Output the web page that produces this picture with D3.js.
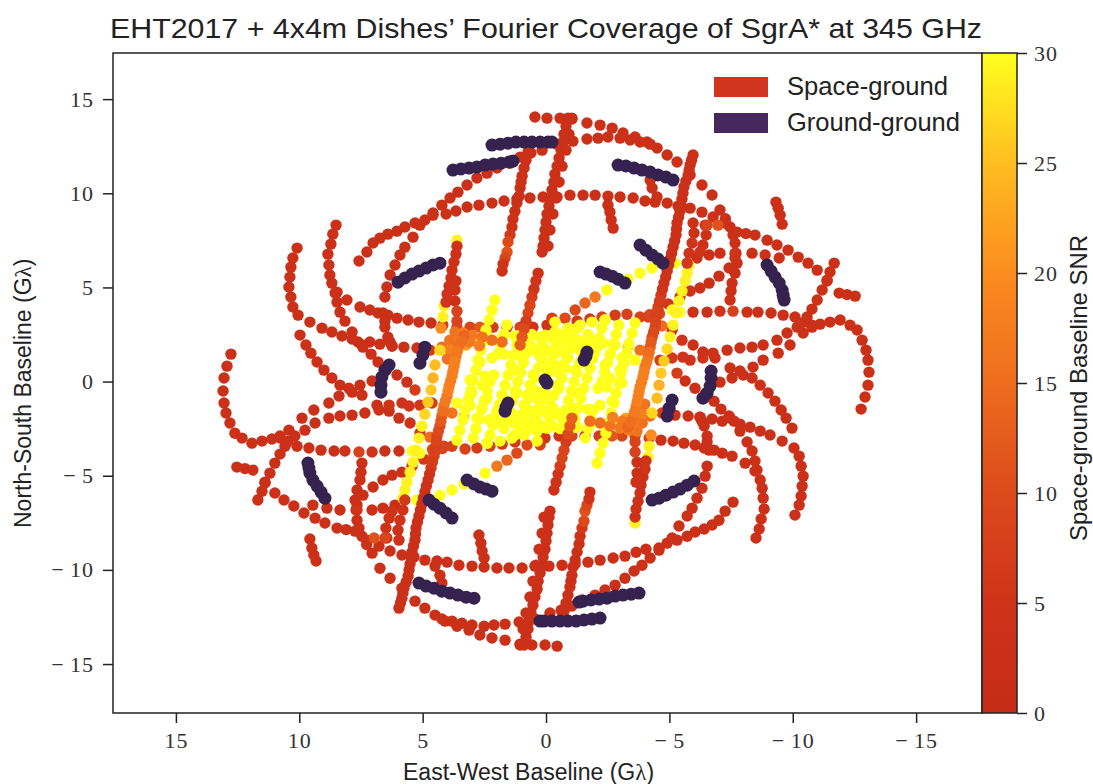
<!DOCTYPE html>
<html>
<head>
<meta charset="utf-8">
<script src="https://cdn.jsdelivr.net/npm/d3@7"></script>
<style>
html, body { margin: 0; background: #fff; }
text { fill: #222; }
.sans { font-family: "Liberation Sans", Arial, sans-serif; }
.tick text { font-family: "Liberation Serif", serif; font-size: 22px; fill: #333; letter-spacing: 1px; }
.tick line { stroke: #222; stroke-width: 1.5px; }
</style>
</head>
<body>
<div id="viz"></div>
<script>
//Ticks y escala de color
const xTicks = [15, 10, 5, 0, -5, -10, -15];
const yTicks = [15, 10, 5, 0, -5, -10, -15];
const snrTicks = [0, 5, 10, 15, 20, 25, 30];
const snrColors = ['#c42c17', '#cf3319', '#dc4a1c', '#ee6d1e', '#fb8c1f', '#ffbd20', '#ffff1e'];
const legendLabels = ['Space-ground', 'Ground-ground'];

//Space-ground: [u, v, snr], solo una mitad del plano (el conjugado -u,-v se pinta luego)
const arcTop = [[.45,14.05,3],[-.04,13.99,3],[-.57,13.99,3],[-1.05,13.94,3],[-1.66,13.73,3],[-2.19,13.62,3],[-2.68,13.46,3],[-3.12,13.2,3],[-3.61,12.99,3],[-4.09,12.72,3],[-4.5,12.4,3],[-4.91,12.03,3],[-5.31,11.66,3],[-5.84,10.97,3],[-6.32,10.44,3],[-6.73,9.91,3],[-7.05,9.11,3],[-7.27,8.65,3],[-7.46,8.21,3],[-7.58,7.78,3],[-7.66,7.36,3],[-7.7,6.82,3],[-7.74,6.29,3],[-7.66,5.76,3],[-7.54,5.23,3],[-7.5,4.81,3],[-7.46,4.33,3]];
const arcLong = [[7.58,6.4,3],[7.26,6.88,3],[7.01,7.36,3],[6.73,7.62,3],[6.41,7.83,3],[6.04,7.99,3],[5.72,8.21,3],[5.31,8.42,3],[4.91,8.58,3],[4.58,8.95,3],[4.22,9.37,3],[3.89,9.75,3],[3.57,10.06,3],[3.2,10.44,3],[2.8,10.81,3],[2.39,11.07,3],[1.99,11.34,3],[1.46,11.6,3],[1.05,11.92,3],[.61,12.14,3],[.16,12.29,3],[-.45,12.61,3],[-1.09,12.77,3],[-1.66,12.88,3],[-2.11,12.93,3],[-2.51,12.99,3],[-3,12.93,3],[-3.41,12.83,3],[-3.81,12.72,3],[-4.22,12.61,3]];
const arcTen = [[6.53,4.49,3],[6.45,5.02,3],[6.32,5.66,3],[6.12,6.19,3],[5.92,6.72,3],[5.72,7.14,3],[5.39,7.67,3],[5.11,8.31,3],[4.58,8.84,3],[4.05,8.9,3],[3.65,9.06,3],[3.2,9.27,3],[2.72,9.37,3],[2.19,9.48,3],[1.7,9.59,3],[1.18,9.69,3],[.65,9.75,3],[.12,9.8,3],[-.45,9.8,3],[-.97,9.9,3],[-1.5,9.9,3],[-1.99,9.9,3],[-2.51,9.85,3],[-3,9.8,3],[-3.53,9.75,3],[-4.01,9.59,3],[-4.42,9.53,3],[-4.91,9.48,3],[-5.35,9.32,3],[-5.84,9.21,3],[-6.32,9,3],[-6.77,8.74,3],[-7.26,8.42,3],[-7.74,7.94,3],[-8.1,7.86,3],[-8.47,7.78,3],[-8.96,7.51,3],[-9.36,7.25,3],[-9.81,6.98,3],[-10.22,6.61,3],[-10.62,6.29,3],[-10.99,5.92,3],[-11.39,5.34,3],[-11.88,4.7,3],[-12.2,4.62,3],[-12.53,4.54,3]];
const shortA = [[-9.32,9.53,3],[-9.41,9.21,3],[-9.49,8.84,3],[-9.57,8.36,3]];
const shortB = [[-2.51,9.37,3],[-2.59,9,3],[-2.64,8.58,3],[-2.72,8.15,3]];
const shortC = [[-4.22,10.7,3],[-4.3,10.28,3],[-4.5,9.8,3]];
const shortD = [[-5.96,8.42,4],[-6,7.89,4],[-5.92,7.36,5],[-5.8,6.82,5],[-5.72,6.29,6]];
const shortE = [[-6.45,8.31,4],[-6.49,7.78,4],[-6.36,7.25,4],[-6.24,6.88,5],[-6.53,8.31,9],[-6.97,8.31,11]];
const shortF = [[6.61,3.64,3],[6.53,3.21,3],[6.53,2.89,3],[6.41,2.36,3],[6.32,2.1,3],[6.24,1.89,3]];
const spokeA = [[-.89,13.99,3],[-.81,13.57,3],[-.73,13.14,3],[-.69,12.72,3],[-.61,12.29,3],[-.53,11.87,3],[-.45,11.44,3],[-.36,11.02,3],[-.32,10.6,3],[-.24,10.17,3],[-.16,9.75,3],[-.12,9.32,3],[-.04,8.9,3],[0,8.47,3],[.04,8.05,3],[.08,7.62,3],[.12,7.2,3],[.16,6.88,3]];
const spokeB = [[-1.05,13.99,3],[-.93,13.14,3],[-.81,12.29,3],[-.65,11.44,3],[-.53,10.6,3],[-.41,9.75,3],[-.28,8.9,3],[-.16,8.05,3],[-.08,7.2,3]];
const spokeC = [[.73,12.19,3],[.81,11.76,3],[.89,11.34,3],[.97,10.91,3],[1.01,10.6,3],[1.05,10.28,3],[1.09,9.85,3],[1.18,9.48,3],[1.26,9.05,3],[1.34,8.63,3],[1.38,8.21,4],[1.46,7.78,6],[1.54,7.41,10],[1.58,6.88,11],[1.66,6.56,9],[1.74,6.24,5],[1.78,5.87,4]];
const spokeD = [[.32,5.76,4],[.41,5.34,5],[.49,4.91,5],[.57,4.49,7],[.65,4.06,9],[.73,3.64,9],[.81,3.21,7],[.89,2.79,10],[.97,2.36,12],[1.05,1.94,13]];
const spokeYellow = [[3.61,7.51,29],[4.13,4.01,29],[4.18,3.43,29],[4.26,2.84,20],[4.3,1.67,27],[4.5,.88,25],[4.58,.19,24],[4.66,-.45,26],[4.78,-1.09,26],[4.91,-1.73,27],[5.03,-2.37,29],[5.15,-3,29],[5.27,-3.64,29],[5.39,-4.28,29],[5.51,-4.81,29],[5.64,-5.34,29],[5.72,-5.76,29],[5.8,-6.19,29]];
const spokeRed = [[3.61,7.19,4],[3.65,6.77,4],[3.73,6.35,4],[3.81,5.92,4],[3.85,5.5,4],[3.93,5.07,4],[4.01,4.65,5],[4.05,4.22,5]];
const spokeRed2 = [[3.65,5.34,4],[3.69,4.86,4],[3.69,4.28,4],[3.61,3.74,8],[3.61,3.21,9]];
const spokeLong = [[-5.96,12.03,3],[-5.84,11.5,3],[-5.76,10.97,3],[-5.59,10.33,3],[-5.51,9.69,3],[-5.43,9.05,3],[-5.31,8.42,3],[-5.27,7.78,3],[-5.15,7.14,3],[-5.03,6.51,3],[-4.91,5.87,4],[-4.78,5.23,5],[-4.66,4.59,6],[-4.54,3.96,8],[-4.46,3.43,8],[-4.42,2.89,9],[-4.3,2.36,10],[-4.22,1.83,13],[-4.14,1.3,17],[-4.01,.77,17],[-3.93,.24,18],[-3.81,-.29,18],[-3.73,-.82,18],[-3.65,-1.35,17],[-3.53,-1.89,16],[-3.32,-2.42,14]];
const spokeLong2 = [[-5.9,11.76,3],[-5.8,11.23,3],[-5.67,10.65,3],[-5.55,10,3],[-5.47,9.37,3],[-5.37,8.73,3],[-5.29,8.1,3],[-5.21,7.46,3],[-5.09,6.82,3],[-4.97,6.19,3],[-4.85,5.55,4],[-4.72,4.91,5],[-4.6,4.27,7],[-4.5,3.7,8],[-4.44,3.16,9],[-4.36,2.62,10],[-4.26,2.1,12],[-4.18,1.56,15],[-4.08,1.03,17],[-3.97,.5,18],[-3.87,-.02,18],[-3.77,-.55,18],[-3.69,-1.08,18],[-3.59,-1.62,17],[-3.42,-2.15,15]];
const rowThree = [[-12.77,-1.46,3],[-12.93,-.82,3],[-13.05,-.19,3],[-13.09,.5,3],[-13.05,1.14,3],[-12.97,1.67,3],[-12.81,2.2,3],[-12.61,2.74,3],[-12.32,3,3],[-11.92,3.27,3],[-11.51,3.16,3],[-11.11,3.05,3],[-10.78,3,3],[-10.46,3.16,3],[-10.09,3.43,3],[-9.61,3.53,3],[-9.12,3.64,3],[-8.59,3.69,3],[-8.15,3.69,4],[-7.58,3.74,8],[-7.05,3.74,5],[-6.53,3.69,3],[-5.96,3.69,3],[-5.43,3.69,30],[-5.11,3.8,30],[-4.6,3.6,10],[-4.2,3.55,9],[-3.81,3.43,8],[-3.28,3.58,8],[-2.8,3.53,7],[-2.27,3.43,9],[-1.78,3.32,6],[-1.26,3.21,6],[-.77,3.37,10],[-.24,3.37,8]];
const arcLeft = [[8.51,8.31,3],[8.64,7.83,3],[8.72,7.3,3],[8.84,6.77,3],[8.8,6.19,3],[8.76,5.66,3],[8.68,5.23,3],[8.55,4.7,3],[8.07,4.33,3],[7.54,3.96,3],[7.14,3.8,3],[6.81,3.64,3],[6.41,3.53,3],[6.04,3.37,3],[5.59,3.27,3],[5.15,3.16,3],[4.66,3.11,3],[4.18,3,8],[3.61,2.89,9],[3.08,2.89,9],[2.68,2.89,12],[2.15,2.89,7],[1.58,2.89,5],[1.05,2.89,8],[.53,2.89,5],[-.04,3,5]];
const arcOuter = [[10.09,7.09,3],[10.26,6.56,3],[10.34,6.08,3],[10.38,5.55,3],[10.42,5.02,3],[10.34,4.49,3],[10.26,3.96,3],[10.05,3.53,3],[9.57,3.16,3],[9.08,2.84,3],[8.68,2.63,3],[8.27,2.42,3],[7.86,2.26,3],[7.46,1.94,3],[7.14,2.1,3],[6.73,1.99,3],[6.24,1.89,3],[5.76,1.83,3],[5.23,1.78,4],[4.7,1.67,7],[4.22,1.83,15],[3.73,1.83,19]];
const arcOuter2 = [[9.97,2.47,3],[9.73,1.94,3],[9.53,1.51,3],[9.28,1.04,3],[9,.61,3],[8.68,.19,3],[8.35,-.19,3],[7.86,-.56,3],[7.46,-.72,3],[6.85,-1.25,3],[6.36,-1.57,3],[5.96,-1.94,4],[5.51,-2.2,5],[5.11,-2.73,7],[4.7,-2.95,15]];
const arcRight = [[-10.78,2.89,3],[-10.42,2.58,3],[-9.89,1.94,3],[-9.41,1.51,3],[-8.8,1.14,3],[-8.39,.77,3],[-7.99,.35,3],[-7.54,.19,3],[-7.05,-.03,3]];
const arcBranch = [[8.47,4.75,3],[8.47,4.22,3],[8.35,3.69,3],[8.15,3.21,3],[7.86,2.63,3],[7.62,2.1,3],[7.42,1.83,3],[7.09,1.46,3],[6.81,1.04,3],[6.45,.66,3],[6.04,.35,3],[5.64,-.03,4],[5.31,-.45,7]];
const arcFar = [[-11.68,6.29,3],[-11.51,5.82,3],[-11.39,5.39,3],[-11.19,4.86,3],[-10.99,4.33,3],[-10.78,3.85,3],[-10.58,3.43,3],[-10.18,2.89,3],[-9.77,2.58,3],[-9.36,2.2,3],[-8.8,1.94,3],[-8.35,1.83,3],[-7.86,1.78,3],[-7.34,1.67,3],[-6.77,1.51,4],[-6.36,1.25,5],[-5.84,1.14,5],[-5.55,1.3,5],[-5.11,1.25,6],[-4.62,1.14,7]];
const arcInner = [[-7.66,6.56,3],[-7.42,6.03,3],[-7.01,5.6,3],[-6.61,5.23,3],[-6.24,4.97,3],[-5.84,4.81,4],[-5.43,4.49,5],[-4.95,4.12,6],[-4.54,3.8,7],[-4.14,3.43,8]];
const rowSix = [[-9.45,6.56,3],[-8.88,6.72,3],[-8.35,6.82,3],[-7.66,6.82,5],[-7.05,6.82,3],[-6.61,6.72,3],[-6.12,6.56,3],[-5.76,6.24,4]];
const orangeEdge = [[3.69,2.63,16],[3.36,2.58,17],[3,2.47,17],[2.59,2.36,16],[2.19,2.2,15],[1.78,2.1,15],[3.9,2.2,16],[3.5,2.2,17],[3.1,2.1,17],[2.7,1.9,18],[3.9,1.7,18],[4,1.2,16]];
const diagonal = [[-5.23,6.29,30],[-4.3,6.03,30],[-3.81,5.76,30],[-3.32,5.44,30],[-2.47,4.86,30],[-1.99,4.49,17],[-1.58,4.17,14],[-1.18,3.8,10],[-.36,3.16,30]];

//Zona central, baselines cortas de SNR alto
const centreA = [[2.07,4.33,30],[2.19,3.8,30],[2.31,3.27,30],[2.43,2.74,30],[2.51,2.2,30],[2.64,1.67,30],[2.76,1.14,30],[2.84,.61,30],[2.96,.08,30],[3.04,-.45,30],[3.16,-.98,30],[3.28,-1.51,30],[3.36,-2.04,30],[3.49,-2.58,30],[3.61,-3.11,30]];
const centreB = [[1.05,2.47,30],[1.18,1.94,30],[1.3,1.41,30],[1.42,.88,30],[1.54,.35,30],[1.66,-.19,30],[1.78,-.72,30],[1.91,-1.25,30],[2.03,-1.78,30],[2.15,-2.31,30],[2.27,-2.84,30],[2.39,-3.27,30]];
const centreC = [[.04,2.47,30],[.16,1.94,30],[.28,1.41,30],[.53,.35,30],[.65,-.19,30],[.77,-.72,30],[.89,-1.25,30],[1.01,-1.78,30],[1.14,-2.31,30],[1.26,-2.84,30]];
const centreD = [[-1.05,2.47,30],[-.93,1.94,30],[-.81,1.41,30],[-.69,.88,30],[-.57,.35,30],[-.45,-.19,30],[-.32,-.72,30],[-.2,-1.25,30],[-.08,-1.78,30]];
const centreE = [[3.08,-.72,30],[2.59,-.19,30],[2.11,.35,30],[1.14,1.41,30],[.65,1.94,30],[.16,2.31,30],[-.36,2.63,30],[-.89,2.84,30],[-1.38,3,30],[-1.86,3.16,30],[-2.39,3.27,30]];
const centreF = [[3.24,1.94,22],[2.76,2.15,27],[2.27,2.26,30],[1.78,2.31,30],[1.26,2.42,30],[.73,2.47,30],[.24,2.36,30],[-.24,2.31,30],[-.77,2.31,30],[-1.3,2.2,30],[-1.78,2.2,30],[-2.31,2.04,30],[-2.8,1.94,30],[-3.32,1.83,27],[-3.81,1.67,16]];
const centreG = [[2.68,1.04,30],[2.19,1.25,30],[1.7,1.46,30],[1.05,1.57,30],[.45,1.67,30],[-.16,1.57,30],[-.77,1.57,30],[-1.38,1.67,30],[-1.99,1.57,30],[-2.59,1.41,30],[-3.08,1.25,30],[-3.61,1.14,30]];
const centreH = [[3.08,.08,30],[2.47,.29,30],[1.26,.61,30],[.04,.72,30],[-.57,.72,30],[-1.18,.61,30],[-1.78,.72,30],[-2.39,.88,30],[-3,.61,30]];
const centreI = [[1.59,3,30],[1.7,2.5,30],[1.82,2,30],[1.93,1.5,30],[2.27,0,30],[2.38,-.5,30],[2.5,-1,30],[2.61,-1.5,30],[2.72,-2,30],[2.84,-2.5,30],[2.95,-3,30]];
const centreJ = [[.58,2.5,30],[.69,2,30],[.8,1.5,30],[.91,1,30],[1.03,.5,30],[1.14,0,30],[1.25,-.5,30],[1.37,-1,30],[1.48,-1.5,30],[1.59,-2,30],[1.7,-2.5,30]];
const centreK = [[-.53,2.5,30],[-.41,2,30],[-.3,1.5,30],[-.19,1,30],[-.07,.5,30],[.04,0,30],[.15,-.5,30],[.27,-1,30],[.38,-1.5,30],[.49,-2,30],[.61,-2.5,30]];

//Ground-ground: [u, v]
const groundA = [[2.19,12.56],[1.86,12.61],[1.54,12.66],[1.22,12.72],[.89,12.72],[.57,12.72],[.24,12.72],[-.08,12.72],[-.24,12.72]];
const groundB = [[3.77,11.23],[3.45,11.29],[3.12,11.34],[2.8,11.39],[2.47,11.5],[2.15,11.55],[1.82,11.6],[1.5,11.66],[1.34,11.71]];
const groundC = [[-2.92,11.5],[-3.24,11.45],[-3.57,11.34],[-3.89,11.23],[-4.22,11.13],[-4.54,10.97],[-4.86,10.86],[-5.15,10.7]];
const groundD = [[-3.81,7.25],[-4.05,6.98],[-4.3,6.72],[-4.54,6.51],[-4.74,6.29]];
const groundE = [[-2.19,5.82],[-2.43,5.71],[-2.68,5.6],[-2.92,5.44],[-3.2,5.23]];
const groundF = [[6,5.28],[5.72,5.5],[5.43,5.71],[5.15,5.87],[4.86,6.03],[4.58,6.19],[4.3,6.29]];
const groundG = [[-8.96,6.19],[-9.12,5.87],[-9.28,5.55],[-9.45,5.23],[-9.57,4.86],[-9.61,4.59],[-9.65,4.33]];
const groundH = [[4.91,1.83],[4.99,1.41],[5.11,.98]];
const groundI = [[6.36,.88],[6.53,.61],[6.65,.24],[6.69,-.19],[6.69,-.56]];
const groundJ = [[1.54,-1.14],[1.62,-1.35],[1.66,-1.57]];
const groundK = [[-.04,-.08]];

const spaceTracks = [arcTop, arcLong, arcTen, shortA, shortB, shortC, arcLeft, arcOuter, arcOuter2, arcRight, arcBranch, arcFar, arcInner, rowSix, rowThree, shortF,
    centreE, centreF, centreG, centreH, centreA, centreB, centreC, centreD, centreI, centreJ, centreK, diagonal, orangeEdge, spokeYellow, spokeRed, spokeRed2, spokeA, spokeB, spokeC, spokeD, spokeLong, spokeLong2, shortD, shortE];
const groundTracks = [groundA, groundB, groundC, groundD, groundE, groundF, groundG, groundH, groundI, groundJ, groundK];

const COLOR_SPACE = '#d1351f', COLOR_GROUND = '#46285c', COLOR_GROUND_DOT = '#35224f', COLOR_LINE = '#222';

let width = 1093, height = 784;
let margin = {top: 53, right: 111, bottom: 71, left: 113},
    plotW = 982 - margin.left,
    plotH = height - margin.top - margin.bottom;

let svg = d3.select('#viz').append('svg')
    .attr('width', width)
    .attr('height', height)
    .style('display', 'block');

let g = svg.append('g')
    .attr('transform', 'translate(' + margin.left + ',' + margin.top + ')');

let x = d3.scaleLinear().domain([17.55, -17.67]).range([0, plotW]);
let y = d3.scaleLinear().domain([17.45, -17.6]).range([0, plotH]);
let color = d3.scaleLinear().domain(snrTicks).range(snrColors).clamp(true);

function tickLabel(d) { return d < 0 ? '\u2212\u2009' + Math.abs(d) : String(d); }

//Puntos, cada baseline con su conjugado
function withConjugate(tracks) {
    let points = [];
    tracks.forEach(function(track) {
        track.forEach(function(p) { points.push({u: p[0], v: p[1], snr: p[2]}); });
        track.forEach(function(p) { points.push({u: -p[0], v: -p[1], snr: p[2]}); });
    });
    return points;
}

g.append('g').selectAll('circle')
    .data(withConjugate(spaceTracks))
    .enter().append('circle')
    .attr('cx', function(d) { return x(d.u); })
    .attr('cy', function(d) { return y(d.v); })
    .attr('r', 5.7)
    .attr('fill', function(d) { return color(d.snr); });

g.append('g').selectAll('circle')
    .data(withConjugate(groundTracks))
    .enter().append('circle')
    .attr('cx', function(d) { return x(d.u); })
    .attr('cy', function(d) { return y(d.v); })
    .attr('r', 6.5)
    .attr('fill', COLOR_GROUND_DOT);

//Ejes
let xAxis = g.append('g')
    .attr('transform', 'translate(0,' + plotH + ')')
    .call(d3.axisBottom(x).tickValues(xTicks).tickFormat(tickLabel).tickSize(10).tickPadding(9));
xAxis.select('.domain').remove();

let yAxis = g.append('g')
    .call(d3.axisLeft(y).tickValues(yTicks).tickFormat(tickLabel).tickSize(10).tickPadding(9));
yAxis.select('.domain').remove();

g.append('rect')
    .attr('width', plotW).attr('height', plotH)
    .attr('fill', 'none').attr('stroke', COLOR_LINE).attr('stroke-width', 1.5);

//Barra de color
let barW = 35;
let defs = svg.append('defs');
let grad = defs.append('linearGradient').attr('id', 'snrGrad')
    .attr('x1', 0).attr('x2', 0).attr('y1', 1).attr('y2', 0);
grad.selectAll('stop').data(snrTicks).enter().append('stop')
    .attr('offset', function(d) { return d / 30; })
    .attr('stop-color', function(d) { return color(d); });

let yBar = d3.scaleLinear().domain([0, 30]).range([plotH, 0]);
let bar = g.append('g').attr('transform', 'translate(' + plotW + ',0)');
bar.append('rect')
    .attr('width', barW).attr('height', plotH)
    .attr('fill', 'url(#snrGrad)').attr('stroke', COLOR_LINE).attr('stroke-width', 1.5);
let barAxis = bar.append('g')
    .attr('transform', 'translate(' + barW + ',0)')
    .call(d3.axisRight(yBar).tickValues(snrTicks).tickSize(10).tickPadding(7));
barAxis.select('.domain').remove();

//Leyenda
let legend = svg.append('g').selectAll('g')
    .data(legendLabels)
    .enter().append('g')
    .attr('transform', function(d, i) { return 'translate(714,' + (77 + i * 36) + ')'; });
legend.append('rect')
    .attr('width', 54).attr('height', 20)
    .attr('fill', function(d, i) { return i == 0 ? COLOR_SPACE : COLOR_GROUND; });
legend.append('text')
    .attr('class', 'sans')
    .attr('x', 73).attr('y', 18)
    .attr('font-size', 25)
    .attr('textLength', function(d, i) { return i == 0 ? 161 : 173; })
    .attr('lengthAdjust', 'spacingAndGlyphs')
    .text(function(d) { return d; });

//Textos
svg.append('text').attr('class', 'sans')
    .attr('x', 110).attr('y', 38)
    .attr('font-size', 27.5)
    .attr('textLength', 872).attr('lengthAdjust', 'spacingAndGlyphs')
    .text("EHT2017 + 4x4m Dishes\u2019 Fourier Coverage of SgrA* at 345 GHz");

function baselineLabel(sel, name) {
    sel.attr('class', 'sans').attr('font-size', 23);
    sel.append('tspan').text(name + ' (G');
    sel.append('tspan').attr('font-family', '"Liberation Serif", serif').text('\u03bb');
    sel.append('tspan').text(')');
}

svg.append('text').attr('x', 403).attr('y', 780)
    .call(baselineLabel, 'East-West Baseline');

svg.append('text').attr('transform', 'translate(31,528) rotate(-90)')
    .call(baselineLabel, 'North-South Baseline');

svg.append('text').attr('class', 'sans')
    .attr('transform', 'translate(1087,541) rotate(-90)')
    .attr('font-size', 24)
    .attr('textLength', 306).attr('lengthAdjust', 'spacingAndGlyphs')
    .text('Space-ground Baseline SNR');
</script>
</body>
</html>
